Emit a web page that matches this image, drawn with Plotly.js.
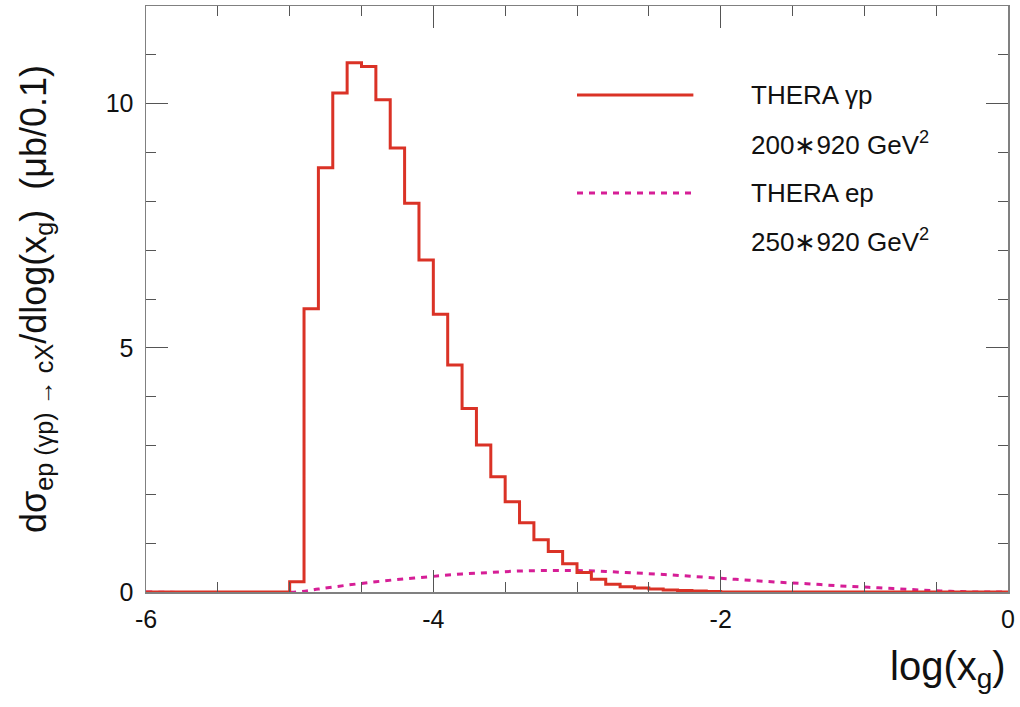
<!DOCTYPE html>
<html>
<head>
<meta charset="utf-8">
<script src="https://cdn.plot.ly/plotly-3.0.1.min.js"></script>
<style>html,body{margin:0;padding:0;background:#fff;}#chart{width:1020px;height:707px;}</style>
</head>
<body>
<div id="chart"></div>
<script>
// THERA gamma-p histogram: lower bin edges (bin width 0.1) and heights
const gpEdges = [-6.0, -5.0, -4.9, -4.8, -4.7, -4.6, -4.5, -4.4, -4.3, -4.2, -4.1,
                 -4.0, -3.9, -3.8, -3.7, -3.6, -3.5, -3.4, -3.3, -3.2, -3.1,
                 -3.0, -2.9, -2.8, -2.7, -2.6, -2.5, -2.4, -2.3, -2.2, -2.1, -2.0, 0.0];
const gpValues = [0.0, 0.21, 5.8, 8.69, 10.22, 10.84, 10.76, 10.08, 9.09, 7.96, 6.80,
                  5.69, 4.65, 3.76, 3.01, 2.36, 1.85, 1.42, 1.07, 0.83, 0.58,
                  0.40, 0.26, 0.16, 0.11, 0.08, 0.06, 0.04, 0.03, 0.02, 0.01, 0.0, 0.0];

// THERA ep curve
const epX = [-6.0, -4.95, -4.8, -4.6, -4.4, -4.2, -4.0, -3.8, -3.6, -3.4, -3.2, -3.0,
             -2.8, -2.6, -2.4, -2.2, -2.0, -1.8, -1.6, -1.4, -1.2, -1.0, -0.8, -0.6, -0.4, -0.2, 0.0];
const epY = [0.0, 0.0, 0.06, 0.14, 0.21, 0.27, 0.32, 0.37, 0.40, 0.43, 0.44, 0.44,
             0.42, 0.39, 0.36, 0.32, 0.28, 0.24, 0.20, 0.17, 0.13, 0.10, 0.07, 0.04, 0.015, 0.0, 0.0];

const legendNames = ["THERA γp", "200∗920 GeV<sup>2</sup>", "THERA ep", "250∗920 GeV<sup>2</sup>"];
const xTickVals = [-6, -4, -2, 0];
const yTickVals = [0, 5, 10];

const red = "rgb(218,50,38)";
const mag = "rgb(214,30,150)";
const fontFam = "Liberation Sans, Arial, sans-serif";

const traces = [
  {x: epX, y: epY, mode: "lines", line: {color: mag, width: 3, dash: "6px,6px", shape: "spline"}, hoverinfo: "skip", showlegend: false},
  {x: gpEdges, y: gpValues, mode: "lines", line: {color: red, width: 3, shape: "hv"}, hoverinfo: "skip", showlegend: false}
];

const axisCommon = {
  showgrid: false, zeroline: false, showline: true, linecolor: "#808080", linewidth: 1.5,
  mirror: "allticks", ticks: "inside", tickcolor: "#555", tickwidth: 1, ticklen: 22,
  tickfont: {family: fontFam, size: 25, color: "#111"}
};

const layout = {
  width: 1020, height: 707,
  margin: {l: 146, r: 12, t: 6, b: 115},
  paper_bgcolor: "#fff", plot_bgcolor: "#fff",
  font: {family: fontFam, color: "#111"},
  xaxis: Object.assign({}, axisCommon, {
    range: [-6, 0], tickvals: xTickVals, ticktext: xTickVals.map(String), ticklabelstandoff: 4,
    minor: {dtick: 0.5, ticks: "inside", ticklen: 10, tickcolor: "#555", tickwidth: 1, showgrid: false}
  }),
  yaxis: Object.assign({}, axisCommon, {
    range: [0, 12], tickvals: yTickVals, ticktext: yTickVals.map(String), ticklabelstandoff: 6,
    minor: {dtick: 1, ticks: "inside", ticklen: 10, tickcolor: "#555", tickwidth: 1, showgrid: false},
    title: {text: "dσ<sub>ep (γp) → cX</sub>/dlog(x<sub>g</sub>)  (μb/0.1)", font: {family: fontFam, size: 36, color: "#111"}, standoff: 48}
  }),
  shapes: [
    {type: "line", xref: "paper", yref: "paper", x0: 0.500, x1: 0.635, y0: 0.848, y1: 0.848, line: {color: red, width: 3}},
    {type: "line", xref: "paper", yref: "paper", x0: 0.500, x1: 0.635, y0: 0.681, y1: 0.681, line: {color: mag, width: 3, dash: "6px,6px"}}
  ],
  annotations: [
    {xref: "paper", yref: "paper", x: 0.700, y: 0.848, xanchor: "left", yanchor: "middle", text: legendNames[0], showarrow: false, font: {family: fontFam, size: 26, color: "#111"}},
    {xref: "paper", yref: "paper", x: 0.700, y: 0.766, xanchor: "left", yanchor: "middle", text: legendNames[1], showarrow: false, font: {family: fontFam, size: 26, color: "#111"}},
    {xref: "paper", yref: "paper", x: 0.700, y: 0.681, xanchor: "left", yanchor: "middle", text: legendNames[2], showarrow: false, font: {family: fontFam, size: 26, color: "#111"}},
    {xref: "paper", yref: "paper", x: 0.700, y: 0.599, xanchor: "left", yanchor: "middle", text: legendNames[3], showarrow: false, font: {family: fontFam, size: 26, color: "#111"}},
    {xref: "paper", yref: "paper", x: 1.0, y: -0.085, xanchor: "right", yanchor: "top", text: "log(x<sub>g</sub>)", showarrow: false, font: {family: fontFam, size: 40, color: "#111"}}
  ]
};

Plotly.newPlot("chart", traces, layout, {staticPlot: true, displayModeBar: false});
</script>
</body>
</html>
